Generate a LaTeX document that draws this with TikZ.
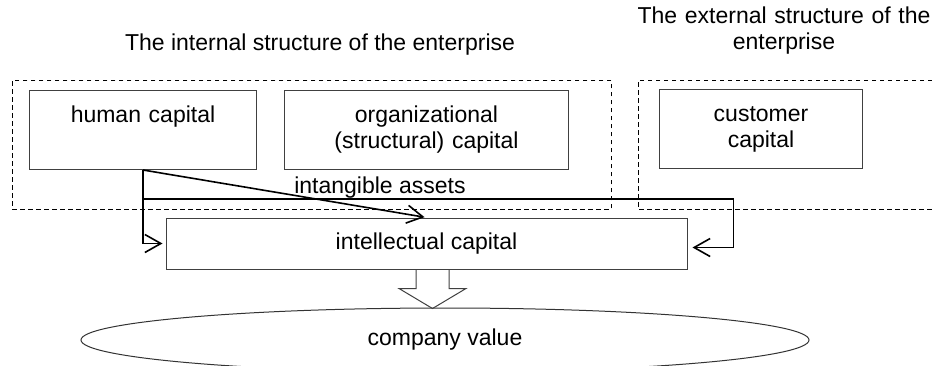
\documentclass[tikz,border=0pt]{standalone}
\usepackage{fontspec}
\setmainfont{Liberation Sans}
\usetikzlibrary{arrows.meta,shapes.geometric}

\tikzset{
    capbox/.style={draw=black!75, line width=1pt, anchor=north west, align=center,
        inner sep=0pt, text height=32pt, text depth=47pt},
    frame/.style={draw, dash pattern=on 4.5pt off 3.5pt, line width=0.9pt},
    link/.style={line width=1.6pt, -{Straight Barb[length=16pt,width=18pt]}},
    heading/.style={anchor=base, align=center}
}

\begin{document}
\begin{tikzpicture}[x=1pt, y=-1pt, font=\fontsize{23}{26}\selectfont]
        \useasboundingbox (0,0) rectangle (932,365);

        \node[heading] (inttitle) at (320,50) {The internal structure of the enterprise};
        \node[heading, text width=300pt] (exttitle) at (784,23) {The external structure of the\\enterprise};

        \node[frame, anchor=north west, minimum width=599pt, minimum height=129pt, inner sep=0pt] (internal) at (12,80) {};
        \draw[frame] (940,80) -| (638,209) -- (940,209);

        \node[capbox, text width=227pt] (human) at (29,90) {human capital};
        \node[capbox, text width=284pt] (organizational) at (284,90) {organizational\\(structural) capital};
        \node[capbox, text width=203pt] (customer) at (659,89) {customer\\capital};

        \node[draw=black!75, line width=1pt, minimum width=521pt, minimum height=51pt, inner sep=0pt] (intellectual) at (426.5,243.5) {intellectual capital};

        \node[ellipse, draw=black!80, line width=1pt, minimum width=728pt, minimum height=64pt, inner sep=0pt] (value) at (445,340) {company value};

        % links into intellectual capital
        \coordinate (split) at ([yshift=-29pt]human.south);
        \draw[link] (human.south) |- ([xshift=-3pt]intellectual.west);
        \draw[link] (split) -| ([xshift=46pt,yshift=-4pt]intellectual.east) -- ([xshift=5pt,yshift=-4pt]intellectual.east);
        \draw[link, shorten >=2pt] (human.south) -- (intellectual.north);
        \node[anchor=base] (intangible) at (380,193) {intangible assets};

        % block arrow down to company value
        \draw[draw=black!75, line width=1pt] ([xshift=-10.5pt]intellectual.south) -- ++(0,19) -- ++(-17,0)
            -- ++(33.5,20) -- ++(33.5,-20) -- ++(-17,0) -- ++(0,-19);
    \end{tikzpicture}
\end{document}
